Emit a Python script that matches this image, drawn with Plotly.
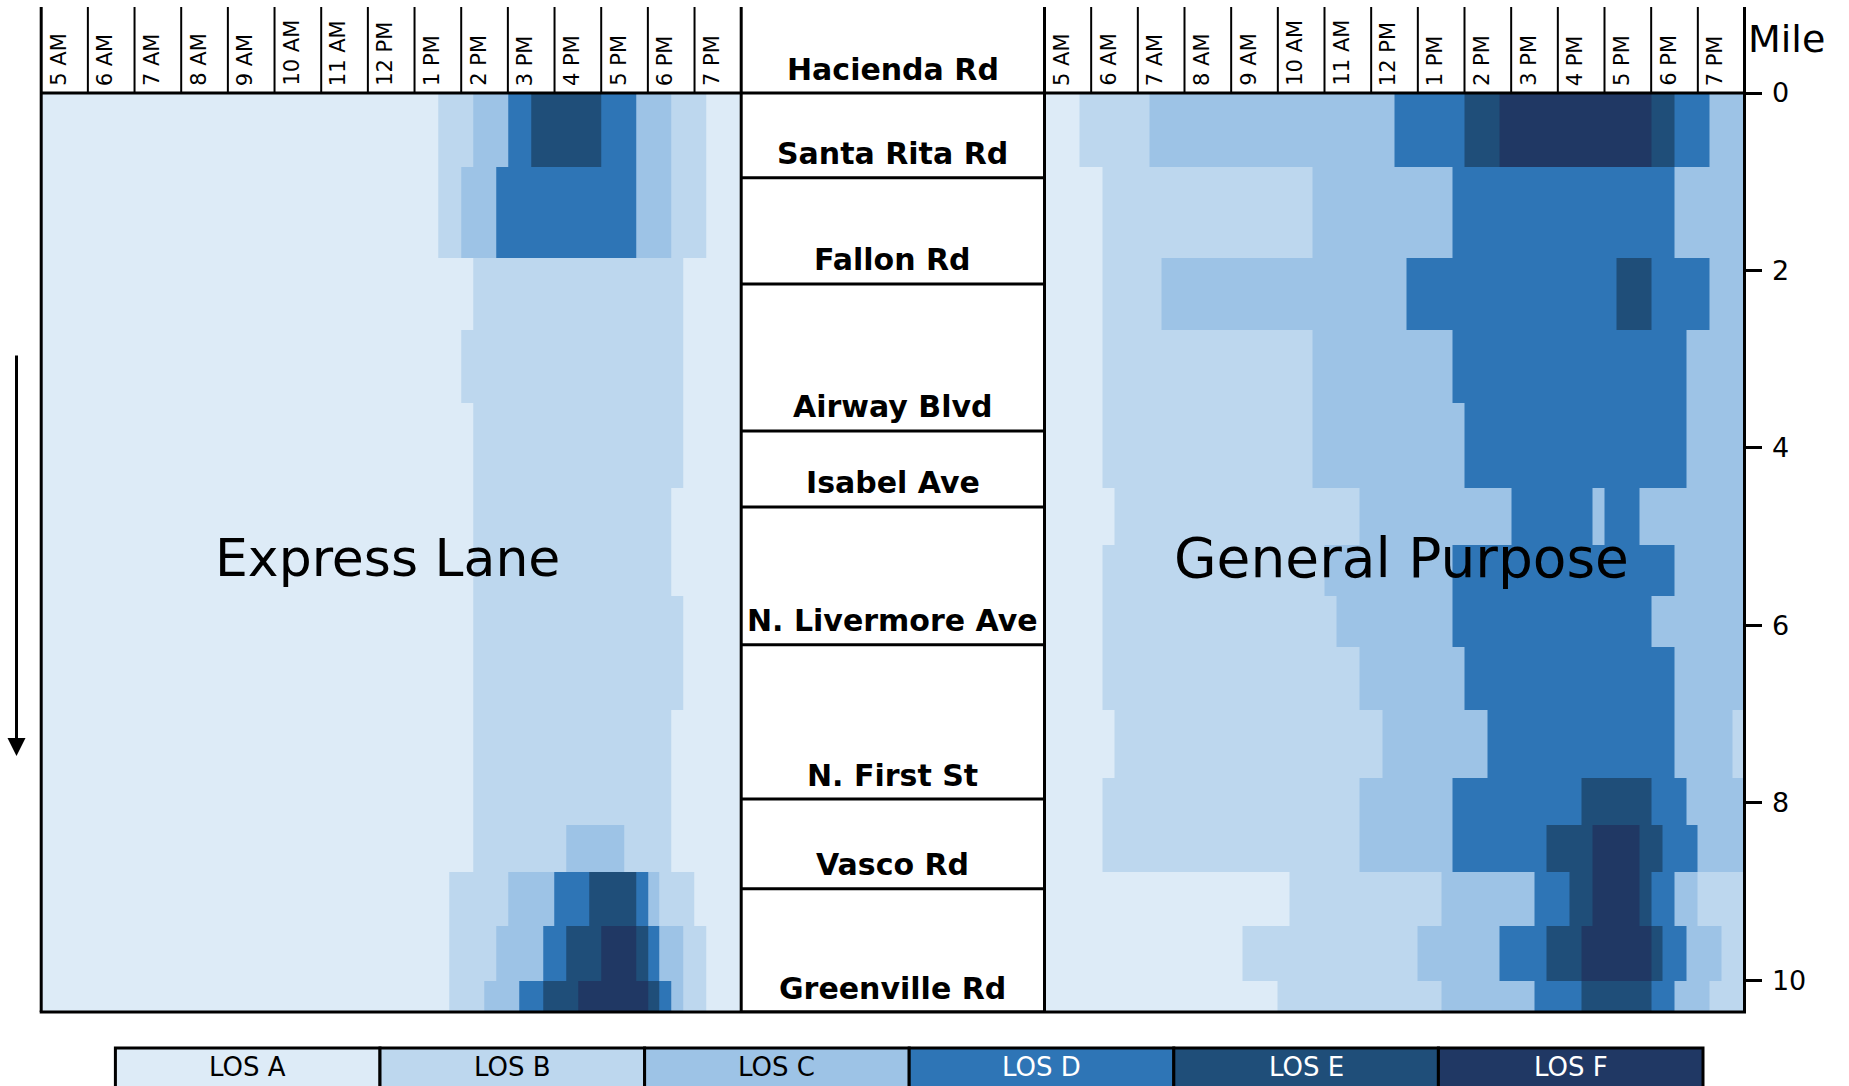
import plotly.graph_objects as go

W, H = 1849, 1086

# ---------------- data ----------------
TIME_LABELS = ["5 AM", "6 AM", "7 AM", "8 AM", "9 AM", "10 AM", "11 AM", "12 PM",
               "1 PM", "2 PM", "3 PM", "4 PM", "5 PM", "6 PM", "7 PM"]
QUARTER_EDGES = list(range(61))          # 15-minute slots, 5:00 AM .. 8:00 PM
LOS_LABELS = ["LOS A", "LOS B", "LOS C", "LOS D", "LOS E", "LOS F"]
LOS_CODES = ["A", "B", "C", "D", "E", "F"]
LOS_COLORS = ["#DDEBF7", "#BDD7EE", "#9DC3E6", "#2E75B6", "#1F4E79", "#203864"]
LOS_TEXT_COLORS = ["black", "black", "black", "white", "white", "white"]

MILE_EDGES = [0, 0.83, 1.86, 2.67, 3.49, 4.45, 5.09, 5.67, 6.25, 6.96,
              7.72, 8.25, 8.78, 9.39, 10.01, 10.36]

ROAD_NAMES = ["Hacienda Rd", "Santa Rita Rd", "Fallon Rd", "Airway Blvd", "Isabel Ave",
              "N. Livermore Ave", "N. First St", "Vasco Rd", "Greenville Rd"]
ROAD_MILES = [0, 0.955, 2.153, 3.81, 4.667, 6.22, 7.96, 8.97, 10.36]

MILE_TICKS = [0, 2, 4, 6, 8, 10]

# LOS per 15-minute slot, one row per segment (run-length: level, number of slots)
EXPRESS_RUNS = [
    [("A", 34), ("B", 3), ("C", 3), ("D", 2), ("E", 6), ("D", 3), ("C", 3), ("B", 3), ("A", 3)],
    [("A", 34), ("B", 2), ("C", 3), ("D", 12), ("C", 3), ("B", 3), ("A", 3)],
    [("A", 37), ("B", 18), ("A", 5)],
    [("A", 36), ("B", 19), ("A", 5)],
    [("A", 37), ("B", 18), ("A", 5)],
    [("A", 37), ("B", 17), ("A", 6)],
    [("A", 37), ("B", 17), ("A", 6)],
    [("A", 37), ("B", 18), ("A", 5)],
    [("A", 37), ("B", 18), ("A", 5)],
    [("A", 37), ("B", 17), ("A", 6)],
    [("A", 37), ("B", 17), ("A", 6)],
    [("A", 37), ("B", 8), ("C", 5), ("B", 4), ("A", 6)],
    [("A", 35), ("B", 5), ("C", 4), ("D", 3), ("E", 4), ("D", 1), ("C", 1), ("B", 3), ("A", 4)],
    [("A", 35), ("B", 4), ("C", 4), ("D", 2), ("E", 3), ("F", 3), ("E", 1), ("D", 1), ("C", 2), ("B", 2), ("A", 3)],
    [("A", 35), ("B", 3), ("C", 3), ("D", 2), ("E", 3), ("F", 6), ("E", 1), ("D", 1), ("C", 1), ("B", 2), ("A", 3)],
]

GENERAL_RUNS = [
    [("A", 3), ("B", 6), ("C", 21), ("D", 6), ("E", 3), ("F", 13), ("E", 2), ("D", 3), ("C", 3)],
    [("A", 5), ("B", 18), ("C", 12), ("D", 19), ("C", 6)],
    [("A", 5), ("B", 5), ("C", 21), ("D", 18), ("E", 3), ("D", 5), ("C", 3)],
    [("A", 5), ("B", 18), ("C", 12), ("D", 20), ("C", 5)],
    [("A", 5), ("B", 18), ("C", 13), ("D", 19), ("C", 5)],
    [("A", 6), ("B", 21), ("C", 13), ("D", 7), ("C", 1), ("D", 3), ("C", 9)],
    [("A", 5), ("B", 19), ("C", 11), ("D", 19), ("C", 6)],
    [("A", 5), ("B", 20), ("C", 10), ("D", 17), ("C", 8)],
    [("A", 5), ("B", 22), ("C", 9), ("D", 18), ("C", 6)],
    [("A", 6), ("B", 23), ("C", 9), ("D", 16), ("C", 5), ("B", 1)],
    [("A", 5), ("B", 22), ("C", 8), ("D", 11), ("E", 6), ("D", 3), ("C", 5)],
    [("A", 5), ("B", 22), ("C", 8), ("D", 8), ("E", 4), ("F", 4), ("E", 2), ("D", 3), ("C", 4)],
    [("A", 21), ("B", 13), ("C", 8), ("D", 3), ("E", 2), ("F", 4), ("E", 1), ("D", 2), ("C", 2), ("B", 4)],
    [("A", 17), ("B", 15), ("C", 7), ("D", 4), ("E", 3), ("F", 6), ("E", 1), ("D", 2), ("C", 3), ("B", 2)],
    [("A", 20), ("B", 14), ("C", 8), ("D", 4), ("E", 6), ("D", 2), ("C", 3), ("B", 3)],
]


def expand(runs):
    rows = []
    for r in runs:
        row = []
        for lvl, n in r:
            row += [LOS_CODES.index(lvl)] * n
        rows.append(row)
    return rows


# ---------------- layout geometry (pixels) ----------------
L0, L1 = 41.2, 741.2       # express panel
R0, R1 = 1044.5, 1744.5    # general purpose panel
TOP, BOT = 93.0, 1012.0
HEAD_TOP = 7.0
HOUR_W = (L1 - L0) / 15.0


def px(x):
    return x / W


def py(y):
    return 1 - y / H


FONT = "Century Gothic, DejaVu Sans, sans-serif"

scale = []
n = len(LOS_COLORS)
for i, c in enumerate(LOS_COLORS):
    scale.append([i / n, c])
    scale.append([(i + 1) / n, c])

fig = go.Figure()
for runs, xa, ya in [(EXPRESS_RUNS, "x", "y"), (GENERAL_RUNS, "x2", "y2")]:
    fig.add_trace(go.Heatmap(
        z=expand(runs), x=QUARTER_EDGES, y=MILE_EDGES,
        colorscale=scale, zmin=-0.5, zmax=5.5, showscale=False,
        hoverinfo="skip", xaxis=xa, yaxis=ya))

yr = [MILE_EDGES[-1], 0]
fig.update_layout(
    width=W, height=H, margin=dict(l=0, r=0, t=0, b=0, pad=0, autoexpand=False), autosize=False,
    paper_bgcolor="white", plot_bgcolor="white", showlegend=False,
    xaxis=dict(domain=[px(L0), px(L1)], range=[0, 60], visible=False, fixedrange=True, automargin=False),
    yaxis=dict(domain=[py(BOT), py(TOP)], range=yr, visible=False, fixedrange=True, automargin=False),
    xaxis2=dict(domain=[px(R0), px(R1)], range=[0, 60], visible=False, fixedrange=True, automargin=False),
    yaxis2=dict(domain=[py(BOT), py(TOP)], range=yr, anchor="x2", side="right",
                tickvals=MILE_TICKS, ticktext=[str(t) for t in MILE_TICKS],
                ticks="outside", ticklen=16, tickwidth=3, tickcolor="black",
                ticklabelstandoff=5,
                showline=False, showgrid=False, zeroline=False, automargin=False,
                tickfont=dict(family=FONT, size=27, color="black"), fixedrange=True),
)

shapes = []
ann = []


def line(x0, y0, x1, y1, w=2):
    shapes.append(dict(type="line", xref="paper", yref="paper",
                       x0=px(x0), y0=py(y0), x1=px(x1), y1=py(y1),
                       line=dict(color="black", width=w)))


# header hour boxes and labels
for left in (L0, R0):
    for k in range(16):
        x = left + k * HOUR_W
        if k in (0, 15):
            line(x, HEAD_TOP, x, BOT, 3)
        else:
            line(x, HEAD_TOP, x, TOP, 2)
    for k, lab in enumerate(TIME_LABELS):
        ann.append(dict(x=px(left + k * HOUR_W + 3), y=py(88), xref="paper", yref="paper",
                        text=lab, textangle=-90, showarrow=False, xanchor="left",
                        yanchor="bottom", font=dict(family=FONT, size=21, color="black")))

line(L0, TOP, R1, TOP, 3)
line(L0 - 1.5, BOT, R1 + 1.5, BOT, 3)

# road labels column
for name, m in zip(ROAD_NAMES, ROAD_MILES):
    if m > 0:
        shapes.append(dict(type="line", xref="paper", yref="y", x0=px(L1), x1=px(R0),
                           y0=m, y1=m, line=dict(color="black", width=3)))
    ann.append(dict(x=px((L1 + R0) / 2), y=m, xref="paper", yref="y", text="<b>%s</b>" % name,
                    showarrow=False, xanchor="center", yanchor="middle", yshift=24,
                    font=dict(family=FONT, size=30, color="black")))

# panel titles
ann.append(dict(x=px(387), y=py(558), xref="paper", yref="paper", text="Express Lane",
                showarrow=False, xanchor="center", yanchor="middle",
                font=dict(family=FONT, size=52, color="black")))
ann.append(dict(x=px(1401), y=py(558), xref="paper", yref="paper", text="General Purpose",
                showarrow=False, xanchor="center", yanchor="middle",
                font=dict(family=FONT, size=55, color="black")))
ann.append(dict(x=px(1746), y=py(39), xref="paper", yref="paper", text="Mile",
                showarrow=False, xanchor="left", yanchor="middle",
                font=dict(family=FONT, size=38, color="black")))

# direction arrow
ann.append(dict(x=px(16.5), y=py(756), xref="paper", yref="paper", ax=0, ay=-402,
                axref="pixel", ayref="pixel", text="", showarrow=True, arrowhead=2,
                arrowsize=1.2, arrowwidth=3, arrowcolor="black"))

# LOS legend boxes
BW = 264.6
for i, (lab, col, tc) in enumerate(zip(LOS_LABELS, LOS_COLORS, LOS_TEXT_COLORS)):
    x0 = 115.4 + i * BW
    shapes.append(dict(type="rect", xref="paper", yref="paper", x0=px(x0), x1=px(x0 + BW),
                       y0=py(1048), y1=py(1110), fillcolor=col,
                       line=dict(color="black", width=3)))
    ann.append(dict(x=px(x0 + BW / 2), y=py(1067), xref="paper", yref="paper", text=lab,
                    showarrow=False, xanchor="center", yanchor="middle",
                    font=dict(family=FONT, size=26, color=tc)))

fig.update_layout(shapes=shapes, annotations=ann)

fig.write_html("out.html", config={"displayModeBar": False},
               post_script="document.body.style.margin='0';document.body.style.overflow='hidden';")
